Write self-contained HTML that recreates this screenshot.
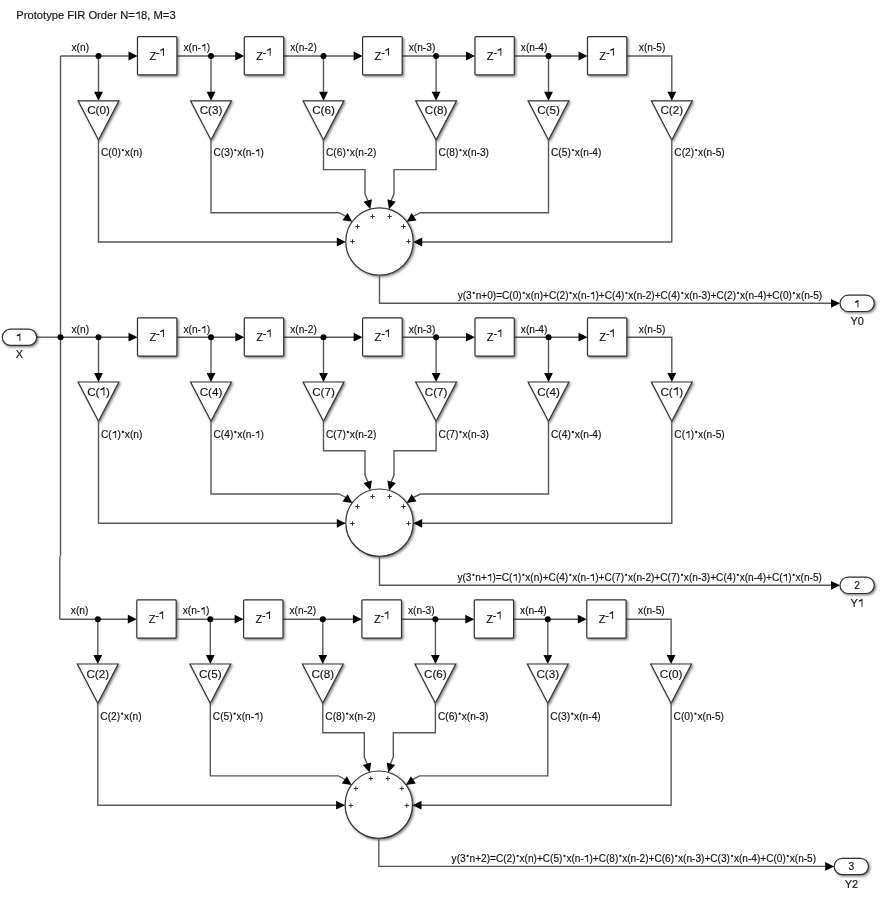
<!DOCTYPE html>
<html><head><meta charset="utf-8"><style>
html,body{margin:0;padding:0;background:#fff;width:884px;height:900px;overflow:hidden}
svg{display:block;opacity:0.999}
text{font-family:"Liberation Sans", sans-serif;fill:#111;stroke:#111;stroke-width:0.15px}
</style></head><body>
<svg width="884" height="900" viewBox="0 0 884 900">
<defs><filter id="sh" x="-20%" y="-20%" width="150%" height="150%"><feDropShadow dx="1.3" dy="1.3" stdDeviation="0.8" flood-color="#000" flood-opacity="0.5"/></filter></defs>
<g transform="translate(0,0)">
<path d="M60.50,56.00L129.50,56.00" fill="none" stroke="#585858" stroke-width="1.4"/>
<path d="M137.50,56.00L128.50,60.40L128.50,51.60Z" fill="#000"/>
<path d="M176.90,56.00L236.30,56.00" fill="none" stroke="#585858" stroke-width="1.4"/>
<path d="M244.30,56.00L235.30,60.40L235.30,51.60Z" fill="#000"/>
<path d="M283.70,56.00L354.60,56.00" fill="none" stroke="#585858" stroke-width="1.4"/>
<path d="M362.60,56.00L353.60,60.40L353.60,51.60Z" fill="#000"/>
<path d="M402.20,56.00L467.00,56.00" fill="none" stroke="#585858" stroke-width="1.4"/>
<path d="M475.00,56.00L466.00,60.40L466.00,51.60Z" fill="#000"/>
<path d="M514.30,56.00L579.50,56.00" fill="none" stroke="#585858" stroke-width="1.4"/>
<path d="M587.50,56.00L578.50,60.40L578.50,51.60Z" fill="#000"/>
<path d="M626.80,56.00L671.80,56.00L671.80,92.50" fill="none" stroke="#585858" stroke-width="1.4"/>
<text x="71.50" y="51.20" font-size="10.2" text-anchor="start" >x(n)</text>
<text x="183.40" y="51.20" font-size="10.2" >x(n-</text>
<path d="M205.32,43.90L205.32,51.20L204.46,51.20L204.46,45.72Q203.59,46.38 201.83,46.53L201.83,45.50Q203.73,44.77 204.90,43.90Z" fill="#111"/>
<text x="206.64" y="51.20" font-size="10.2" >)</text>
<text x="290.20" y="51.20" font-size="10.2" text-anchor="start" >x(n-2)</text>
<text x="408.70" y="51.20" font-size="10.2" text-anchor="start" >x(n-3)</text>
<text x="520.80" y="51.20" font-size="10.2" text-anchor="start" >x(n-4)</text>
<text x="638.80" y="51.20" font-size="10.2" text-anchor="start" >x(n-5)</text>
<path d="M98.50,56.00L98.50,92.50" fill="none" stroke="#585858" stroke-width="1.4"/>
<circle cx="98.50" cy="56.00" r="3.0" fill="#000"/>
<path d="M211.00,56.00L211.00,92.50" fill="none" stroke="#585858" stroke-width="1.4"/>
<circle cx="211.00" cy="56.00" r="3.0" fill="#000"/>
<path d="M323.50,56.00L323.50,92.50" fill="none" stroke="#585858" stroke-width="1.4"/>
<circle cx="323.50" cy="56.00" r="3.0" fill="#000"/>
<path d="M436.10,56.00L436.10,92.50" fill="none" stroke="#585858" stroke-width="1.4"/>
<circle cx="436.10" cy="56.00" r="3.0" fill="#000"/>
<path d="M548.50,56.00L548.50,92.50" fill="none" stroke="#585858" stroke-width="1.4"/>
<circle cx="548.50" cy="56.00" r="3.0" fill="#000"/>
<path d="M98.50,100.80L94.10,91.80L102.90,91.80Z" fill="#000"/>
<path d="M211.00,100.80L206.60,91.80L215.40,91.80Z" fill="#000"/>
<path d="M323.50,100.80L319.10,91.80L327.90,91.80Z" fill="#000"/>
<path d="M436.10,100.80L431.70,91.80L440.50,91.80Z" fill="#000"/>
<path d="M548.50,100.80L544.10,91.80L552.90,91.80Z" fill="#000"/>
<path d="M671.80,100.80L667.40,91.80L676.20,91.80Z" fill="#000"/>
<rect x="137.50" y="36.70" width="39.40" height="38.2" rx="1" fill="#fff" stroke="#333" stroke-width="1.2" filter="url(#sh)"/>
<text x="149.40" y="59.90" font-size="11" text-anchor="start" >Z</text>
<text x="156.00" y="55.50" font-size="11" text-anchor="start" >-</text>
<path d="M163.86,48.00L163.86,55.80L162.94,55.80L162.94,49.95Q162.00,50.65 160.13,50.81L160.13,49.72Q162.16,48.94 163.41,48.00Z" fill="#111"/>
<rect x="244.30" y="36.70" width="39.40" height="38.2" rx="1" fill="#fff" stroke="#333" stroke-width="1.2" filter="url(#sh)"/>
<text x="256.20" y="59.90" font-size="11" text-anchor="start" >Z</text>
<text x="262.80" y="55.50" font-size="11" text-anchor="start" >-</text>
<path d="M270.66,48.00L270.66,55.80L269.74,55.80L269.74,49.95Q268.80,50.65 266.93,50.81L266.93,49.72Q268.96,48.94 270.21,48.00Z" fill="#111"/>
<rect x="362.60" y="36.70" width="39.60" height="38.2" rx="1" fill="#fff" stroke="#333" stroke-width="1.2" filter="url(#sh)"/>
<text x="374.60" y="59.90" font-size="11" text-anchor="start" >Z</text>
<text x="381.20" y="55.50" font-size="11" text-anchor="start" >-</text>
<path d="M389.06,48.00L389.06,55.80L388.14,55.80L388.14,49.95Q387.20,50.65 385.33,50.81L385.33,49.72Q387.36,48.94 388.61,48.00Z" fill="#111"/>
<rect x="475.00" y="36.70" width="39.30" height="38.2" rx="1" fill="#fff" stroke="#333" stroke-width="1.2" filter="url(#sh)"/>
<text x="486.85" y="59.90" font-size="11" text-anchor="start" >Z</text>
<text x="493.45" y="55.50" font-size="11" text-anchor="start" >-</text>
<path d="M501.31,48.00L501.31,55.80L500.39,55.80L500.39,49.95Q499.45,50.65 497.58,50.81L497.58,49.72Q499.61,48.94 500.86,48.00Z" fill="#111"/>
<rect x="587.50" y="36.70" width="39.30" height="38.2" rx="1" fill="#fff" stroke="#333" stroke-width="1.2" filter="url(#sh)"/>
<text x="599.35" y="59.90" font-size="11" text-anchor="start" >Z</text>
<text x="605.95" y="55.50" font-size="11" text-anchor="start" >-</text>
<path d="M613.81,48.00L613.81,55.80L612.89,55.80L612.89,49.95Q611.95,50.65 610.08,50.81L610.08,49.72Q612.11,48.94 613.36,48.00Z" fill="#111"/>
<path d="M78.10,100.80L118.90,100.80L98.50,140.00Z" fill="#fff" stroke="#333" stroke-width="1.2" stroke-linejoin="miter" filter="url(#sh)"/>
<text x="98.50" y="114.30" font-size="11.7" text-anchor="middle" >C(0)</text>
<text x="101.00" y="156.20" font-size="10.2" >C(0)</text>
<circle cx="122.87" cy="150.08" r="1.17" fill="#222"/>
<text x="124.80" y="156.20" font-size="10.2" >x(n)</text>
<path d="M190.60,100.80L231.40,100.80L211.00,140.00Z" fill="#fff" stroke="#333" stroke-width="1.2" stroke-linejoin="miter" filter="url(#sh)"/>
<text x="211.00" y="114.30" font-size="11.7" text-anchor="middle" >C(3)</text>
<text x="213.50" y="156.20" font-size="10.2" >C(3)</text>
<circle cx="235.37" cy="150.08" r="1.17" fill="#222"/>
<text x="237.30" y="156.20" font-size="10.2" >x(n-</text>
<path d="M259.22,148.90L259.22,156.20L258.36,156.20L258.36,150.72Q257.49,151.38 255.73,151.53L255.73,150.50Q257.63,149.77 258.80,148.90Z" fill="#111"/>
<text x="260.54" y="156.20" font-size="10.2" >)</text>
<path d="M303.10,100.80L343.90,100.80L323.50,140.00Z" fill="#fff" stroke="#333" stroke-width="1.2" stroke-linejoin="miter" filter="url(#sh)"/>
<text x="323.50" y="114.30" font-size="11.7" text-anchor="middle" >C(6)</text>
<text x="326.00" y="156.20" font-size="10.2" >C(6)</text>
<circle cx="347.87" cy="150.08" r="1.17" fill="#222"/>
<text x="349.80" y="156.20" font-size="10.2" >x(n-2)</text>
<path d="M415.70,100.80L456.50,100.80L436.10,140.00Z" fill="#fff" stroke="#333" stroke-width="1.2" stroke-linejoin="miter" filter="url(#sh)"/>
<text x="436.10" y="114.30" font-size="11.7" text-anchor="middle" >C(8)</text>
<text x="438.60" y="156.20" font-size="10.2" >C(8)</text>
<circle cx="460.47" cy="150.08" r="1.17" fill="#222"/>
<text x="462.40" y="156.20" font-size="10.2" >x(n-3)</text>
<path d="M528.10,100.80L568.90,100.80L548.50,140.00Z" fill="#fff" stroke="#333" stroke-width="1.2" stroke-linejoin="miter" filter="url(#sh)"/>
<text x="548.50" y="114.30" font-size="11.7" text-anchor="middle" >C(5)</text>
<text x="551.00" y="156.20" font-size="10.2" >C(5)</text>
<circle cx="572.87" cy="150.08" r="1.17" fill="#222"/>
<text x="574.80" y="156.20" font-size="10.2" >x(n-4)</text>
<path d="M651.40,100.80L692.20,100.80L671.80,140.00Z" fill="#fff" stroke="#333" stroke-width="1.2" stroke-linejoin="miter" filter="url(#sh)"/>
<text x="671.80" y="114.30" font-size="11.7" text-anchor="middle" >C(2)</text>
<text x="674.30" y="156.20" font-size="10.2" >C(2)</text>
<circle cx="696.17" cy="150.08" r="1.17" fill="#222"/>
<text x="698.10" y="156.20" font-size="10.2" >x(n-5)</text>
<circle cx="379.5" cy="241.50" r="33.7" fill="#fff" stroke="#333" stroke-width="1.2" filter="url(#sh)"/>
<path d="M98.50,139.30L98.50,242.00L337.80,242.00" fill="none" stroke="#585858" stroke-width="1.4"/>
<path d="M345.80,242.00L336.80,246.40L336.80,237.60Z" fill="#000"/>
<path d="M671.80,139.30L671.80,242.00L421.20,242.00" fill="none" stroke="#585858" stroke-width="1.4"/>
<path d="M413.20,242.00L422.20,237.60L422.20,246.40Z" fill="#000"/>
<path d="M211.00,139.30L211.00,212.70L339.00,212.70L346.90,216.80" fill="none" stroke="#585858" stroke-width="1.4"/>
<path d="M352.40,221.80L342.51,220.21L347.58,213.02Z" fill="#000"/>
<path d="M548.50,139.30L548.50,212.70L420.40,212.70L412.10,216.80" fill="none" stroke="#585858" stroke-width="1.4"/>
<path d="M406.60,221.80L411.60,213.12L416.52,220.42Z" fill="#000"/>
<path d="M323.50,139.30L323.50,169.60L365.00,169.60L365.00,193.80L368.50,202.30" fill="none" stroke="#585858" stroke-width="1.4"/>
<path d="M370.30,209.20L363.50,201.84L371.93,199.32Z" fill="#000"/>
<path d="M436.10,139.30L436.10,169.60L394.00,169.60L394.00,193.80L390.50,202.30" fill="none" stroke="#585858" stroke-width="1.4"/>
<path d="M389.00,209.20L387.37,199.32L395.80,201.84Z" fill="#000"/>
<path d="M370.30,216.50h4.4M372.50,214.30v4.4" stroke="#333" stroke-width="1"/>
<path d="M387.30,216.50h4.4M389.50,214.30v4.4" stroke="#333" stroke-width="1"/>
<path d="M355.30,226.50h4.4M357.50,224.30v4.4" stroke="#333" stroke-width="1"/>
<path d="M401.30,226.50h4.4M403.50,224.30v4.4" stroke="#333" stroke-width="1"/>
<path d="M350.30,241.50h4.4M352.50,239.30v4.4" stroke="#333" stroke-width="1"/>
<path d="M406.30,241.50h4.4M408.50,239.30v4.4" stroke="#333" stroke-width="1"/>
<path d="M379.50,275.20L379.50,303.30L831.50,303.30" fill="none" stroke="#585858" stroke-width="1.4"/>
<path d="M840.00,303.30L831.00,307.70L831.00,298.90Z" fill="#000"/>
<text x="457.70" y="299.00" font-size="10.1" >y(3</text>
<circle cx="473.75" cy="292.94" r="1.16" fill="#222"/>
<text x="475.66" y="299.00" font-size="10.1" >n+0)=C(0)</text>
<circle cx="523.71" cy="292.94" r="1.16" fill="#222"/>
<text x="525.62" y="299.00" font-size="10.1" >x(n)+C(2)</text>
<circle cx="570.57" cy="292.94" r="1.16" fill="#222"/>
<text x="572.48" y="299.00" font-size="10.1" >x(n-</text>
<path d="M594.19,291.77L594.19,299.00L593.34,299.00L593.34,293.58Q592.47,294.23 590.73,294.37L590.73,293.36Q592.61,292.64 593.77,291.77Z" fill="#111"/>
<text x="595.49" y="299.00" font-size="10.1" >)+C(4)</text>
<circle cx="626.41" cy="292.94" r="1.16" fill="#222"/>
<text x="628.32" y="299.00" font-size="10.1" >x(n-2)+C(4)</text>
<circle cx="682.25" cy="292.94" r="1.16" fill="#222"/>
<text x="684.16" y="299.00" font-size="10.1" >x(n-3)+C(2)</text>
<circle cx="738.09" cy="292.94" r="1.16" fill="#222"/>
<text x="740.00" y="299.00" font-size="10.1" >x(n-4)+C(0)</text>
<circle cx="793.93" cy="292.94" r="1.16" fill="#222"/>
<text x="795.84" y="299.00" font-size="10.1" >x(n-5)</text>
<rect x="840.00" y="295.20" width="34.3" height="16.3" rx="8.15" fill="#fff" stroke="#333" stroke-width="1.2" filter="url(#sh)"/>
<path d="M858.43,300.10L858.43,307.40L857.57,307.40L857.57,301.93Q856.69,302.58 854.94,302.73L854.94,301.71Q856.84,300.98 858.01,300.10Z" fill="#111"/>
<text x="857.20" y="324.70" font-size="11" text-anchor="middle" >Y0</text>
</g>
<g transform="translate(0,0)">
<path d="M60.50,337.20L129.50,337.20" fill="none" stroke="#585858" stroke-width="1.4"/>
<path d="M137.50,337.20L128.50,341.60L128.50,332.80Z" fill="#000"/>
<path d="M176.90,337.20L236.30,337.20" fill="none" stroke="#585858" stroke-width="1.4"/>
<path d="M244.30,337.20L235.30,341.60L235.30,332.80Z" fill="#000"/>
<path d="M283.70,337.20L354.60,337.20" fill="none" stroke="#585858" stroke-width="1.4"/>
<path d="M362.60,337.20L353.60,341.60L353.60,332.80Z" fill="#000"/>
<path d="M402.20,337.20L467.00,337.20" fill="none" stroke="#585858" stroke-width="1.4"/>
<path d="M475.00,337.20L466.00,341.60L466.00,332.80Z" fill="#000"/>
<path d="M514.30,337.20L579.50,337.20" fill="none" stroke="#585858" stroke-width="1.4"/>
<path d="M587.50,337.20L578.50,341.60L578.50,332.80Z" fill="#000"/>
<path d="M626.80,337.20L671.80,337.20L671.80,373.70" fill="none" stroke="#585858" stroke-width="1.4"/>
<text x="71.50" y="333.30" font-size="10.2" text-anchor="start" >x(n)</text>
<text x="183.40" y="333.30" font-size="10.2" >x(n-</text>
<path d="M205.32,326.00L205.32,333.30L204.46,333.30L204.46,327.82Q203.59,328.48 201.83,328.63L201.83,327.60Q203.73,326.87 204.90,326.00Z" fill="#111"/>
<text x="206.64" y="333.30" font-size="10.2" >)</text>
<text x="290.20" y="333.30" font-size="10.2" text-anchor="start" >x(n-2)</text>
<text x="408.70" y="333.30" font-size="10.2" text-anchor="start" >x(n-3)</text>
<text x="520.80" y="333.30" font-size="10.2" text-anchor="start" >x(n-4)</text>
<text x="638.80" y="333.30" font-size="10.2" text-anchor="start" >x(n-5)</text>
<path d="M98.50,337.20L98.50,373.70" fill="none" stroke="#585858" stroke-width="1.4"/>
<circle cx="98.50" cy="337.20" r="3.0" fill="#000"/>
<path d="M211.00,337.20L211.00,373.70" fill="none" stroke="#585858" stroke-width="1.4"/>
<circle cx="211.00" cy="337.20" r="3.0" fill="#000"/>
<path d="M323.50,337.20L323.50,373.70" fill="none" stroke="#585858" stroke-width="1.4"/>
<circle cx="323.50" cy="337.20" r="3.0" fill="#000"/>
<path d="M436.10,337.20L436.10,373.70" fill="none" stroke="#585858" stroke-width="1.4"/>
<circle cx="436.10" cy="337.20" r="3.0" fill="#000"/>
<path d="M548.50,337.20L548.50,373.70" fill="none" stroke="#585858" stroke-width="1.4"/>
<circle cx="548.50" cy="337.20" r="3.0" fill="#000"/>
<path d="M98.50,382.00L94.10,373.00L102.90,373.00Z" fill="#000"/>
<path d="M211.00,382.00L206.60,373.00L215.40,373.00Z" fill="#000"/>
<path d="M323.50,382.00L319.10,373.00L327.90,373.00Z" fill="#000"/>
<path d="M436.10,382.00L431.70,373.00L440.50,373.00Z" fill="#000"/>
<path d="M548.50,382.00L544.10,373.00L552.90,373.00Z" fill="#000"/>
<path d="M671.80,382.00L667.40,373.00L676.20,373.00Z" fill="#000"/>
<rect x="137.50" y="317.90" width="39.40" height="38.2" rx="1" fill="#fff" stroke="#333" stroke-width="1.2" filter="url(#sh)"/>
<text x="149.40" y="341.10" font-size="11" text-anchor="start" >Z</text>
<text x="156.00" y="336.70" font-size="11" text-anchor="start" >-</text>
<path d="M163.86,329.20L163.86,337.00L162.94,337.00L162.94,331.15Q162.00,331.85 160.13,332.01L160.13,330.92Q162.16,330.14 163.41,329.20Z" fill="#111"/>
<rect x="244.30" y="317.90" width="39.40" height="38.2" rx="1" fill="#fff" stroke="#333" stroke-width="1.2" filter="url(#sh)"/>
<text x="256.20" y="341.10" font-size="11" text-anchor="start" >Z</text>
<text x="262.80" y="336.70" font-size="11" text-anchor="start" >-</text>
<path d="M270.66,329.20L270.66,337.00L269.74,337.00L269.74,331.15Q268.80,331.85 266.93,332.01L266.93,330.92Q268.96,330.14 270.21,329.20Z" fill="#111"/>
<rect x="362.60" y="317.90" width="39.60" height="38.2" rx="1" fill="#fff" stroke="#333" stroke-width="1.2" filter="url(#sh)"/>
<text x="374.60" y="341.10" font-size="11" text-anchor="start" >Z</text>
<text x="381.20" y="336.70" font-size="11" text-anchor="start" >-</text>
<path d="M389.06,329.20L389.06,337.00L388.14,337.00L388.14,331.15Q387.20,331.85 385.33,332.01L385.33,330.92Q387.36,330.14 388.61,329.20Z" fill="#111"/>
<rect x="475.00" y="317.90" width="39.30" height="38.2" rx="1" fill="#fff" stroke="#333" stroke-width="1.2" filter="url(#sh)"/>
<text x="486.85" y="341.10" font-size="11" text-anchor="start" >Z</text>
<text x="493.45" y="336.70" font-size="11" text-anchor="start" >-</text>
<path d="M501.31,329.20L501.31,337.00L500.39,337.00L500.39,331.15Q499.45,331.85 497.58,332.01L497.58,330.92Q499.61,330.14 500.86,329.20Z" fill="#111"/>
<rect x="587.50" y="317.90" width="39.30" height="38.2" rx="1" fill="#fff" stroke="#333" stroke-width="1.2" filter="url(#sh)"/>
<text x="599.35" y="341.10" font-size="11" text-anchor="start" >Z</text>
<text x="605.95" y="336.70" font-size="11" text-anchor="start" >-</text>
<path d="M613.81,329.20L613.81,337.00L612.89,337.00L612.89,331.15Q611.95,331.85 610.08,332.01L610.08,330.92Q612.11,330.14 613.36,329.20Z" fill="#111"/>
<path d="M78.10,382.00L118.90,382.00L98.50,421.20Z" fill="#fff" stroke="#333" stroke-width="1.2" stroke-linejoin="miter" filter="url(#sh)"/>
<text x="87.13" y="395.50" font-size="11.7" >C(</text>
<path d="M104.47,387.12L104.47,395.50L103.48,395.50L103.48,389.22Q102.48,389.97 100.47,390.14L100.47,388.97Q102.64,388.13 103.98,387.12Z" fill="#111"/>
<text x="105.98" y="395.50" font-size="11.7" >)</text>
<text x="101.00" y="438.10" font-size="10.2" >C(</text>
<path d="M116.12,430.80L116.12,438.10L115.26,438.10L115.26,432.62Q114.38,433.28 112.63,433.43L112.63,432.40Q114.53,431.67 115.70,430.80Z" fill="#111"/>
<text x="117.43" y="438.10" font-size="10.2" >)</text>
<circle cx="122.87" cy="431.98" r="1.17" fill="#222"/>
<text x="124.80" y="438.10" font-size="10.2" >x(n)</text>
<path d="M190.60,382.00L231.40,382.00L211.00,421.20Z" fill="#fff" stroke="#333" stroke-width="1.2" stroke-linejoin="miter" filter="url(#sh)"/>
<text x="211.00" y="395.50" font-size="11.7" text-anchor="middle" >C(4)</text>
<text x="213.50" y="438.10" font-size="10.2" >C(4)</text>
<circle cx="235.37" cy="431.98" r="1.17" fill="#222"/>
<text x="237.30" y="438.10" font-size="10.2" >x(n-</text>
<path d="M259.22,430.80L259.22,438.10L258.36,438.10L258.36,432.62Q257.49,433.28 255.73,433.43L255.73,432.40Q257.63,431.67 258.80,430.80Z" fill="#111"/>
<text x="260.54" y="438.10" font-size="10.2" >)</text>
<path d="M303.10,382.00L343.90,382.00L323.50,421.20Z" fill="#fff" stroke="#333" stroke-width="1.2" stroke-linejoin="miter" filter="url(#sh)"/>
<text x="323.50" y="395.50" font-size="11.7" text-anchor="middle" >C(7)</text>
<text x="326.00" y="438.10" font-size="10.2" >C(7)</text>
<circle cx="347.87" cy="431.98" r="1.17" fill="#222"/>
<text x="349.80" y="438.10" font-size="10.2" >x(n-2)</text>
<path d="M415.70,382.00L456.50,382.00L436.10,421.20Z" fill="#fff" stroke="#333" stroke-width="1.2" stroke-linejoin="miter" filter="url(#sh)"/>
<text x="436.10" y="395.50" font-size="11.7" text-anchor="middle" >C(7)</text>
<text x="438.60" y="438.10" font-size="10.2" >C(7)</text>
<circle cx="460.47" cy="431.98" r="1.17" fill="#222"/>
<text x="462.40" y="438.10" font-size="10.2" >x(n-3)</text>
<path d="M528.10,382.00L568.90,382.00L548.50,421.20Z" fill="#fff" stroke="#333" stroke-width="1.2" stroke-linejoin="miter" filter="url(#sh)"/>
<text x="548.50" y="395.50" font-size="11.7" text-anchor="middle" >C(4)</text>
<text x="551.00" y="438.10" font-size="10.2" >C(4)</text>
<circle cx="572.87" cy="431.98" r="1.17" fill="#222"/>
<text x="574.80" y="438.10" font-size="10.2" >x(n-4)</text>
<path d="M651.40,382.00L692.20,382.00L671.80,421.20Z" fill="#fff" stroke="#333" stroke-width="1.2" stroke-linejoin="miter" filter="url(#sh)"/>
<text x="660.43" y="395.50" font-size="11.7" >C(</text>
<path d="M677.77,387.12L677.77,395.50L676.78,395.50L676.78,389.22Q675.78,389.97 673.77,390.14L673.77,388.97Q675.94,388.13 677.28,387.12Z" fill="#111"/>
<text x="679.28" y="395.50" font-size="11.7" >)</text>
<text x="674.30" y="438.10" font-size="10.2" >C(</text>
<path d="M689.42,430.80L689.42,438.10L688.56,438.10L688.56,432.62Q687.68,433.28 685.93,433.43L685.93,432.40Q687.83,431.67 689.00,430.80Z" fill="#111"/>
<text x="690.73" y="438.10" font-size="10.2" >)</text>
<circle cx="696.17" cy="431.98" r="1.17" fill="#222"/>
<text x="698.10" y="438.10" font-size="10.2" >x(n-5)</text>
<circle cx="379.5" cy="522.70" r="33.7" fill="#fff" stroke="#333" stroke-width="1.2" filter="url(#sh)"/>
<path d="M98.50,420.50L98.50,523.30L337.80,523.30" fill="none" stroke="#585858" stroke-width="1.4"/>
<path d="M345.80,523.30L336.80,527.70L336.80,518.90Z" fill="#000"/>
<path d="M671.80,420.50L671.80,523.30L421.20,523.30" fill="none" stroke="#585858" stroke-width="1.4"/>
<path d="M413.20,523.30L422.20,518.90L422.20,527.70Z" fill="#000"/>
<path d="M211.00,420.50L211.00,494.00L339.00,494.00L346.90,498.00" fill="none" stroke="#585858" stroke-width="1.4"/>
<path d="M352.40,503.00L342.51,501.41L347.58,494.22Z" fill="#000"/>
<path d="M548.50,420.50L548.50,494.00L420.40,494.00L412.10,498.00" fill="none" stroke="#585858" stroke-width="1.4"/>
<path d="M406.60,503.00L411.60,494.32L416.52,501.62Z" fill="#000"/>
<path d="M323.50,420.50L323.50,450.80L365.00,450.80L365.00,475.00L368.50,483.50" fill="none" stroke="#585858" stroke-width="1.4"/>
<path d="M370.30,490.40L363.50,483.04L371.93,480.52Z" fill="#000"/>
<path d="M436.10,420.50L436.10,450.80L394.00,450.80L394.00,475.00L390.50,483.50" fill="none" stroke="#585858" stroke-width="1.4"/>
<path d="M389.00,490.40L387.37,480.52L395.80,483.04Z" fill="#000"/>
<path d="M370.30,496.50h4.4M372.50,494.30v4.4" stroke="#333" stroke-width="1"/>
<path d="M387.30,496.50h4.4M389.50,494.30v4.4" stroke="#333" stroke-width="1"/>
<path d="M355.30,506.50h4.4M357.50,504.30v4.4" stroke="#333" stroke-width="1"/>
<path d="M401.30,506.50h4.4M403.50,504.30v4.4" stroke="#333" stroke-width="1"/>
<path d="M350.30,523.50h4.4M352.50,521.30v4.4" stroke="#333" stroke-width="1"/>
<path d="M406.30,523.50h4.4M408.50,521.30v4.4" stroke="#333" stroke-width="1"/>
<path d="M379.50,556.40L379.50,585.30L831.50,585.30" fill="none" stroke="#585858" stroke-width="1.4"/>
<path d="M840.00,585.30L831.00,589.70L831.00,580.90Z" fill="#000"/>
<text x="457.40" y="581.00" font-size="10.1" >y(3</text>
<circle cx="473.45" cy="574.94" r="1.16" fill="#222"/>
<text x="475.36" y="581.00" font-size="10.1" >n+</text>
<path d="M491.19,573.77L491.19,581.00L490.34,581.00L490.34,575.58Q489.47,576.23 487.73,576.37L487.73,575.36Q489.61,574.64 490.77,573.77Z" fill="#111"/>
<text x="492.49" y="581.00" font-size="10.1" >)=C(</text>
<path d="M516.72,573.77L516.72,581.00L515.87,581.00L515.87,575.58Q515.00,576.23 513.27,576.37L513.27,575.36Q515.15,574.64 516.31,573.77Z" fill="#111"/>
<text x="518.03" y="581.00" font-size="10.1" >)</text>
<circle cx="523.41" cy="574.94" r="1.16" fill="#222"/>
<text x="525.32" y="581.00" font-size="10.1" >x(n)+C(4)</text>
<circle cx="570.27" cy="574.94" r="1.16" fill="#222"/>
<text x="572.18" y="581.00" font-size="10.1" >x(n-</text>
<path d="M593.89,573.77L593.89,581.00L593.03,581.00L593.03,575.58Q592.17,576.23 590.43,576.37L590.43,575.36Q592.31,574.64 593.47,573.77Z" fill="#111"/>
<text x="595.19" y="581.00" font-size="10.1" >)+C(7)</text>
<circle cx="626.11" cy="574.94" r="1.16" fill="#222"/>
<text x="628.02" y="581.00" font-size="10.1" >x(n-2)+C(7)</text>
<circle cx="681.95" cy="574.94" r="1.16" fill="#222"/>
<text x="683.86" y="581.00" font-size="10.1" >x(n-3)+C(4)</text>
<circle cx="737.79" cy="574.94" r="1.16" fill="#222"/>
<text x="739.69" y="581.00" font-size="10.1" >x(n-4)+C(</text>
<path d="M786.94,573.77L786.94,581.00L786.09,581.00L786.09,575.58Q785.22,576.23 783.48,576.37L783.48,575.36Q785.36,574.64 786.52,573.77Z" fill="#111"/>
<text x="788.24" y="581.00" font-size="10.1" >)</text>
<circle cx="793.62" cy="574.94" r="1.16" fill="#222"/>
<text x="795.53" y="581.00" font-size="10.1" >x(n-5)</text>
<rect x="840.00" y="577.20" width="34.3" height="16.3" rx="8.15" fill="#fff" stroke="#333" stroke-width="1.2" filter="url(#sh)"/>
<text x="857.20" y="589.00" font-size="10.2" text-anchor="middle" >2</text>
<text x="850.47" y="606.70" font-size="11" >Y</text>
<path d="M862.51,598.82L862.51,606.70L861.58,606.70L861.58,600.79Q860.63,601.50 858.74,601.66L858.74,600.56Q860.79,599.77 862.05,598.82Z" fill="#111"/>
</g>
<g transform="translate(-0.7,0)">
<path d="M60.50,619.20L129.50,619.20" fill="none" stroke="#585858" stroke-width="1.4"/>
<path d="M137.50,619.20L128.50,623.60L128.50,614.80Z" fill="#000"/>
<path d="M176.90,619.20L236.30,619.20" fill="none" stroke="#585858" stroke-width="1.4"/>
<path d="M244.30,619.20L235.30,623.60L235.30,614.80Z" fill="#000"/>
<path d="M283.70,619.20L354.60,619.20" fill="none" stroke="#585858" stroke-width="1.4"/>
<path d="M362.60,619.20L353.60,623.60L353.60,614.80Z" fill="#000"/>
<path d="M402.20,619.20L467.00,619.20" fill="none" stroke="#585858" stroke-width="1.4"/>
<path d="M475.00,619.20L466.00,623.60L466.00,614.80Z" fill="#000"/>
<path d="M514.30,619.20L579.50,619.20" fill="none" stroke="#585858" stroke-width="1.4"/>
<path d="M587.50,619.20L578.50,623.60L578.50,614.80Z" fill="#000"/>
<path d="M626.80,619.20L671.80,619.20L671.80,655.70" fill="none" stroke="#585858" stroke-width="1.4"/>
<text x="71.50" y="614.40" font-size="10.2" text-anchor="start" >x(n)</text>
<text x="183.40" y="614.40" font-size="10.2" >x(n-</text>
<path d="M205.32,607.10L205.32,614.40L204.46,614.40L204.46,608.92Q203.59,609.58 201.83,609.73L201.83,608.70Q203.73,607.97 204.90,607.10Z" fill="#111"/>
<text x="206.64" y="614.40" font-size="10.2" >)</text>
<text x="290.20" y="614.40" font-size="10.2" text-anchor="start" >x(n-2)</text>
<text x="408.70" y="614.40" font-size="10.2" text-anchor="start" >x(n-3)</text>
<text x="520.80" y="614.40" font-size="10.2" text-anchor="start" >x(n-4)</text>
<text x="638.80" y="614.40" font-size="10.2" text-anchor="start" >x(n-5)</text>
<path d="M98.50,619.20L98.50,655.70" fill="none" stroke="#585858" stroke-width="1.4"/>
<circle cx="98.50" cy="619.20" r="3.0" fill="#000"/>
<path d="M211.00,619.20L211.00,655.70" fill="none" stroke="#585858" stroke-width="1.4"/>
<circle cx="211.00" cy="619.20" r="3.0" fill="#000"/>
<path d="M323.50,619.20L323.50,655.70" fill="none" stroke="#585858" stroke-width="1.4"/>
<circle cx="323.50" cy="619.20" r="3.0" fill="#000"/>
<path d="M436.10,619.20L436.10,655.70" fill="none" stroke="#585858" stroke-width="1.4"/>
<circle cx="436.10" cy="619.20" r="3.0" fill="#000"/>
<path d="M548.50,619.20L548.50,655.70" fill="none" stroke="#585858" stroke-width="1.4"/>
<circle cx="548.50" cy="619.20" r="3.0" fill="#000"/>
<path d="M98.50,664.00L94.10,655.00L102.90,655.00Z" fill="#000"/>
<path d="M211.00,664.00L206.60,655.00L215.40,655.00Z" fill="#000"/>
<path d="M323.50,664.00L319.10,655.00L327.90,655.00Z" fill="#000"/>
<path d="M436.10,664.00L431.70,655.00L440.50,655.00Z" fill="#000"/>
<path d="M548.50,664.00L544.10,655.00L552.90,655.00Z" fill="#000"/>
<path d="M671.80,664.00L667.40,655.00L676.20,655.00Z" fill="#000"/>
<rect x="137.50" y="599.90" width="39.40" height="38.2" rx="1" fill="#fff" stroke="#333" stroke-width="1.2" filter="url(#sh)"/>
<text x="149.40" y="623.10" font-size="11" text-anchor="start" >Z</text>
<text x="156.00" y="618.70" font-size="11" text-anchor="start" >-</text>
<path d="M163.86,611.20L163.86,619.00L162.94,619.00L162.94,613.15Q162.00,613.85 160.13,614.01L160.13,612.92Q162.16,612.14 163.41,611.20Z" fill="#111"/>
<rect x="244.30" y="599.90" width="39.40" height="38.2" rx="1" fill="#fff" stroke="#333" stroke-width="1.2" filter="url(#sh)"/>
<text x="256.20" y="623.10" font-size="11" text-anchor="start" >Z</text>
<text x="262.80" y="618.70" font-size="11" text-anchor="start" >-</text>
<path d="M270.66,611.20L270.66,619.00L269.74,619.00L269.74,613.15Q268.80,613.85 266.93,614.01L266.93,612.92Q268.96,612.14 270.21,611.20Z" fill="#111"/>
<rect x="362.60" y="599.90" width="39.60" height="38.2" rx="1" fill="#fff" stroke="#333" stroke-width="1.2" filter="url(#sh)"/>
<text x="374.60" y="623.10" font-size="11" text-anchor="start" >Z</text>
<text x="381.20" y="618.70" font-size="11" text-anchor="start" >-</text>
<path d="M389.06,611.20L389.06,619.00L388.14,619.00L388.14,613.15Q387.20,613.85 385.33,614.01L385.33,612.92Q387.36,612.14 388.61,611.20Z" fill="#111"/>
<rect x="475.00" y="599.90" width="39.30" height="38.2" rx="1" fill="#fff" stroke="#333" stroke-width="1.2" filter="url(#sh)"/>
<text x="486.85" y="623.10" font-size="11" text-anchor="start" >Z</text>
<text x="493.45" y="618.70" font-size="11" text-anchor="start" >-</text>
<path d="M501.31,611.20L501.31,619.00L500.39,619.00L500.39,613.15Q499.45,613.85 497.58,614.01L497.58,612.92Q499.61,612.14 500.86,611.20Z" fill="#111"/>
<rect x="587.50" y="599.90" width="39.30" height="38.2" rx="1" fill="#fff" stroke="#333" stroke-width="1.2" filter="url(#sh)"/>
<text x="599.35" y="623.10" font-size="11" text-anchor="start" >Z</text>
<text x="605.95" y="618.70" font-size="11" text-anchor="start" >-</text>
<path d="M613.81,611.20L613.81,619.00L612.89,619.00L612.89,613.15Q611.95,613.85 610.08,614.01L610.08,612.92Q612.11,612.14 613.36,611.20Z" fill="#111"/>
<path d="M78.10,664.00L118.90,664.00L98.50,703.20Z" fill="#fff" stroke="#333" stroke-width="1.2" stroke-linejoin="miter" filter="url(#sh)"/>
<text x="98.50" y="677.50" font-size="11.7" text-anchor="middle" >C(2)</text>
<text x="101.00" y="719.80" font-size="10.2" >C(2)</text>
<circle cx="122.87" cy="713.68" r="1.17" fill="#222"/>
<text x="124.80" y="719.80" font-size="10.2" >x(n)</text>
<path d="M190.60,664.00L231.40,664.00L211.00,703.20Z" fill="#fff" stroke="#333" stroke-width="1.2" stroke-linejoin="miter" filter="url(#sh)"/>
<text x="211.00" y="677.50" font-size="11.7" text-anchor="middle" >C(5)</text>
<text x="213.50" y="719.80" font-size="10.2" >C(5)</text>
<circle cx="235.37" cy="713.68" r="1.17" fill="#222"/>
<text x="237.30" y="719.80" font-size="10.2" >x(n-</text>
<path d="M259.22,712.50L259.22,719.80L258.36,719.80L258.36,714.32Q257.49,714.98 255.73,715.13L255.73,714.10Q257.63,713.37 258.80,712.50Z" fill="#111"/>
<text x="260.54" y="719.80" font-size="10.2" >)</text>
<path d="M303.10,664.00L343.90,664.00L323.50,703.20Z" fill="#fff" stroke="#333" stroke-width="1.2" stroke-linejoin="miter" filter="url(#sh)"/>
<text x="323.50" y="677.50" font-size="11.7" text-anchor="middle" >C(8)</text>
<text x="326.00" y="719.80" font-size="10.2" >C(8)</text>
<circle cx="347.87" cy="713.68" r="1.17" fill="#222"/>
<text x="349.80" y="719.80" font-size="10.2" >x(n-2)</text>
<path d="M415.70,664.00L456.50,664.00L436.10,703.20Z" fill="#fff" stroke="#333" stroke-width="1.2" stroke-linejoin="miter" filter="url(#sh)"/>
<text x="436.10" y="677.50" font-size="11.7" text-anchor="middle" >C(6)</text>
<text x="438.60" y="719.80" font-size="10.2" >C(6)</text>
<circle cx="460.47" cy="713.68" r="1.17" fill="#222"/>
<text x="462.40" y="719.80" font-size="10.2" >x(n-3)</text>
<path d="M528.10,664.00L568.90,664.00L548.50,703.20Z" fill="#fff" stroke="#333" stroke-width="1.2" stroke-linejoin="miter" filter="url(#sh)"/>
<text x="548.50" y="677.50" font-size="11.7" text-anchor="middle" >C(3)</text>
<text x="551.00" y="719.80" font-size="10.2" >C(3)</text>
<circle cx="572.87" cy="713.68" r="1.17" fill="#222"/>
<text x="574.80" y="719.80" font-size="10.2" >x(n-4)</text>
<path d="M651.40,664.00L692.20,664.00L671.80,703.20Z" fill="#fff" stroke="#333" stroke-width="1.2" stroke-linejoin="miter" filter="url(#sh)"/>
<text x="671.80" y="677.50" font-size="11.7" text-anchor="middle" >C(0)</text>
<text x="674.30" y="719.80" font-size="10.2" >C(0)</text>
<circle cx="696.17" cy="713.68" r="1.17" fill="#222"/>
<text x="698.10" y="719.80" font-size="10.2" >x(n-5)</text>
<circle cx="379.5" cy="804.70" r="33.7" fill="#fff" stroke="#333" stroke-width="1.2" filter="url(#sh)"/>
<path d="M98.50,702.50L98.50,805.20L337.80,805.20" fill="none" stroke="#585858" stroke-width="1.4"/>
<path d="M345.80,805.20L336.80,809.60L336.80,800.80Z" fill="#000"/>
<path d="M671.80,702.50L671.80,805.20L421.20,805.20" fill="none" stroke="#585858" stroke-width="1.4"/>
<path d="M413.20,805.20L422.20,800.80L422.20,809.60Z" fill="#000"/>
<path d="M211.00,702.50L211.00,775.90L339.00,775.90L346.90,780.00" fill="none" stroke="#585858" stroke-width="1.4"/>
<path d="M352.40,785.00L342.51,783.41L347.58,776.22Z" fill="#000"/>
<path d="M548.50,702.50L548.50,775.90L420.40,775.90L412.10,780.00" fill="none" stroke="#585858" stroke-width="1.4"/>
<path d="M406.60,785.00L411.60,776.32L416.52,783.62Z" fill="#000"/>
<path d="M323.50,702.50L323.50,732.80L365.00,732.80L365.00,757.00L368.50,765.50" fill="none" stroke="#585858" stroke-width="1.4"/>
<path d="M370.30,772.40L363.50,765.04L371.93,762.52Z" fill="#000"/>
<path d="M436.10,702.50L436.10,732.80L394.00,732.80L394.00,757.00L390.50,765.50" fill="none" stroke="#585858" stroke-width="1.4"/>
<path d="M389.00,772.40L387.37,762.52L395.80,765.04Z" fill="#000"/>
<path d="M369.30,778.50h4.4M371.50,776.30v4.4" stroke="#333" stroke-width="1"/>
<path d="M386.30,778.50h4.4M388.50,776.30v4.4" stroke="#333" stroke-width="1"/>
<path d="M354.30,788.50h4.4M356.50,786.30v4.4" stroke="#333" stroke-width="1"/>
<path d="M400.30,788.50h4.4M402.50,786.30v4.4" stroke="#333" stroke-width="1"/>
<path d="M349.30,805.50h4.4M351.50,803.30v4.4" stroke="#333" stroke-width="1"/>
<path d="M405.30,805.50h4.4M407.50,803.30v4.4" stroke="#333" stroke-width="1"/>
<path d="M379.50,838.40L379.50,866.40L826.40,866.40" fill="none" stroke="#585858" stroke-width="1.4"/>
<path d="M834.90,866.40L825.90,870.80L825.90,862.00Z" fill="#000"/>
<text x="452.30" y="862.00" font-size="10.1" >y(3</text>
<circle cx="468.35" cy="855.94" r="1.16" fill="#222"/>
<text x="470.26" y="862.00" font-size="10.1" >n+2)=C(2)</text>
<circle cx="518.31" cy="855.94" r="1.16" fill="#222"/>
<text x="520.22" y="862.00" font-size="10.1" >x(n)+C(5)</text>
<circle cx="565.17" cy="855.94" r="1.16" fill="#222"/>
<text x="567.08" y="862.00" font-size="10.1" >x(n-</text>
<path d="M588.79,854.77L588.79,862.00L587.94,862.00L587.94,856.58Q587.07,857.23 585.33,857.37L585.33,856.36Q587.21,855.64 588.37,854.77Z" fill="#111"/>
<text x="590.09" y="862.00" font-size="10.1" >)+C(8)</text>
<circle cx="621.01" cy="855.94" r="1.16" fill="#222"/>
<text x="622.92" y="862.00" font-size="10.1" >x(n-2)+C(6)</text>
<circle cx="676.85" cy="855.94" r="1.16" fill="#222"/>
<text x="678.76" y="862.00" font-size="10.1" >x(n-3)+C(3)</text>
<circle cx="732.69" cy="855.94" r="1.16" fill="#222"/>
<text x="734.60" y="862.00" font-size="10.1" >x(n-4)+C(0)</text>
<circle cx="788.53" cy="855.94" r="1.16" fill="#222"/>
<text x="790.44" y="862.00" font-size="10.1" >x(n-5)</text>
<rect x="834.90" y="858.30" width="34.3" height="16.3" rx="8.15" fill="#fff" stroke="#333" stroke-width="1.2" filter="url(#sh)"/>
<text x="852.10" y="870.00" font-size="10.2" text-anchor="middle" >3</text>
<text x="852.10" y="887.80" font-size="11" text-anchor="middle" >Y2</text>
</g>
<path d="M60.50,56.00L60.50,556.50" fill="none" stroke="#585858" stroke-width="1.4"/>
<path d="M59.80,556.50L59.80,619.20" fill="none" stroke="#585858" stroke-width="1.4"/>
<path d="M36.70,337.20L60.50,337.20" fill="none" stroke="#585858" stroke-width="1.4"/>
<circle cx="60.50" cy="337.20" r="3.0" fill="#000"/>
<rect x="2.3" y="329.10" width="34.4" height="16.3" rx="8.15" fill="#fff" stroke="#333" stroke-width="1.2" filter="url(#sh)"/>
<path d="M20.34,333.50L20.34,341.00L19.46,341.00L19.46,335.38Q18.56,336.05 16.76,336.20L16.76,335.15Q18.71,334.40 19.91,333.50Z" fill="#111"/>
<text x="19.50" y="358.20" font-size="11" text-anchor="middle" >X</text>
<text x="16.30" y="19.20" font-size="11.2" >Prototype FIR Order N=</text>
<path d="M139.66,11.18L139.66,19.20L138.71,19.20L138.71,13.19Q137.75,13.91 135.83,14.07L135.83,12.95Q137.91,12.14 139.19,11.18Z" fill="#111"/>
<text x="141.10" y="19.20" font-size="11.2" >8, M=3</text>
</svg></body></html>
